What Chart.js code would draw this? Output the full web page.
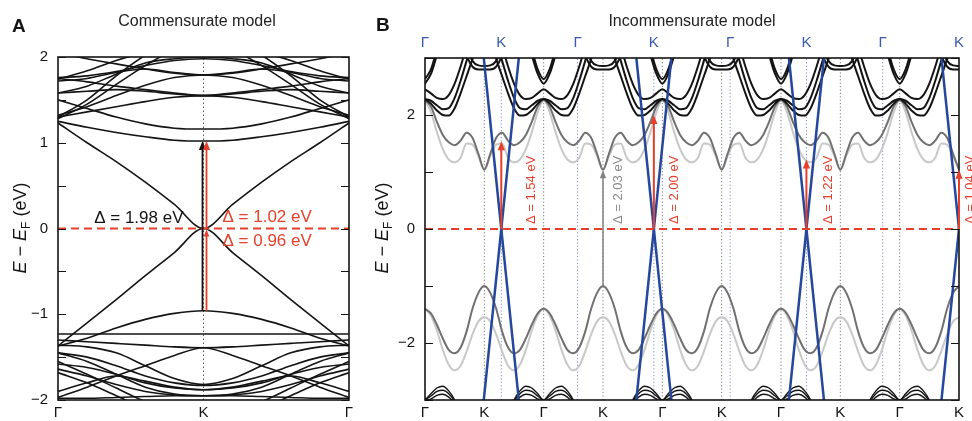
<!DOCTYPE html>
<html lang="en">
<head>
<meta charset="UTF-8">
<title>Commensurate vs incommensurate band structure</title>
<script src="https://cdn.jsdelivr.net/npm/chart.js"></script>
<style>
  html, body { margin: 0; padding: 0; background: #fff; }
  body { width: 972px; height: 421px; position: relative; overflow: hidden; font-family: 'Liberation Sans', Arial, sans-serif; color: #141414; }
  canvas { position: absolute; top: 0; }
  #chartA { left: 0; }
  #chartB { left: 370px; }
  .panel { position: absolute; font-weight: bold; font-size: 19px; line-height: 22px; }
  .title { position: absolute; font-size: 16px; line-height: 18px; transform: translateX(-50%); white-space: nowrap; color: #222; }
</style>
</head>
<body>
<canvas id="chartA" width="370" height="421"></canvas>
<canvas id="chartB" width="602" height="421"></canvas>
<div class="panel" style="left:12px;top:15px">A</div>
<div class="panel" style="left:376px;top:14px">B</div>
<div class="title" style="left:197px;top:12px">Commensurate model</div>
<div class="title" style="left:692px;top:12px">Incommensurate model</div>
<script>
// ---------- panel A: commensurate model (Γ-K-Γ), half path Γ→K, mirrored for K→Γ ----------
const pathA = ['Γ', 'K', 'Γ'];
const kHalfA = [0, 0.2, 0.4, 0.6, 0.8, 1.0];
const diracA = [
  [1.23, 1.00, 0.78, 0.54, 0.28, 0],
  [-1.37, -1.10, -0.83, -0.55, -0.28, 0]
];
const conductionA = [
  [1.25, 1.18, 1.12, 1.07, 1.03, 1.02],
  [1.50, 1.40, 1.30, 1.22, 1.17, 1.16],
  [1.30, 1.36, 1.42, 1.48, 1.53, 1.55],
  [1.75, 1.71, 1.66, 1.62, 1.58, 1.55],
  [1.32, 1.42, 1.55, 1.67, 1.76, 1.79],
  [1.58, 1.60, 1.62, 1.60, 1.57, 1.55],
  [1.28, 1.45, 1.68, 1.90, 2.08, 2.15],
  [1.76, 1.78, 1.83, 1.90, 1.96, 1.98],
  [1.72, 1.75, 1.82, 1.86, 1.82, 1.79],
  [2.05, 1.98, 1.92, 1.86, 1.81, 1.79],
  [1.30, 1.50, 1.78, 2.02, 2.20, 2.25],
  [1.58, 1.66, 1.80, 1.93, 1.98, 2.00],
  [1.74, 1.84, 1.96, 2.05, 2.10, 2.10]
];
const valenceA = [
  [-1.37, -1.28, -1.16, -1.06, -0.99, -0.96],
  [-1.23, -1.23, -1.23, -1.23, -1.23, -1.23],
  [-1.30, -1.32, -1.34, -1.36, -1.38, -1.39],
  [-1.97, -1.85, -1.72, -1.60, -1.48, -1.39],
  [-1.45, -1.50, -1.60, -1.72, -1.80, -1.83],
  [-1.58, -1.62, -1.70, -1.80, -1.86, -1.88],
  [-1.64, -1.72, -1.82, -1.90, -1.94, -1.95],
  [-1.98, -1.98, -1.97, -1.96, -1.95, -1.95],
  [-1.55, -1.70, -1.86, -2.02, -2.15, -2.20],
  [-1.68, -1.80, -1.95, -2.10, -2.20, -2.25],
  [-1.45, -1.55, -1.70, -1.85, -1.93, -1.95],
  [-1.90, -1.80, -1.72, -1.78, -1.85, -1.88],
  [-1.36, -1.38, -1.45, -1.60, -1.75, -1.82]
];
const gapA = [-0.96, 0, 1.02];   // valence top, E_F, conduction bottom at K

// ---------- panel B: incommensurate model ----------
const pathB = ['Γ', 'K', 'Γ', 'K', 'Γ', 'K', 'Γ', 'K', 'Γ', 'K'];   // bottom axis
const pathTopB = ['Γ', 'K', 'Γ', 'K', 'Γ', 'K', 'Γ', 'K'];          // top axis (graphene)
const kHalfB = [0, 0.1, 0.2, 0.3, 0.4, 0.5, 0.6, 0.7, 0.8, 0.9, 1.0];
const upperDarkB = [2.26, 2.15, 1.88, 1.65, 1.52, 1.47, 1.55, 1.69, 1.60, 1.32, 1.04];
const upperLightB = [2.26, 2.05, 1.70, 1.40, 1.22, 1.17, 1.25, 1.50, 1.48, 1.28, 1.04];
const lowerDarkB = [-1.40, -1.48, -1.68, -1.92, -2.12, -2.18, -2.08, -1.80, -1.40, -1.12, -1.00];
const lowerLightB = [-1.40, -1.52, -1.78, -2.12, -2.38, -2.48, -2.40, -2.15, -1.85, -1.62, -1.55];
const blackTopB = [
  [2.28, 2.20, 2.08, 2.00, 1.99, 2.12, 2.38, 2.68, 2.98, 3.30, 3.50],
  [2.28, 2.25, 2.17, 2.10, 2.12, 2.30, 2.60, 2.95, 3.30, 3.50, 3.60],
  [2.45, 2.38, 2.30, 2.28, 2.35, 2.55, 2.85, 3.20, 3.50, 3.60, 3.60],
  [2.63, 2.80, 3.15, 3.50, 3.70, 3.70, 3.70, 3.70, 3.70, 3.70, 3.70],
  [2.55, 2.72, 3.05, 3.40, 3.70, 3.70, 3.70, 3.70, 3.70, 3.70, 3.70],
  [3.70, 3.70, 3.70, 3.70, 3.70, 3.60, 3.45, 3.05, 2.85, 2.80, 2.80],
  [3.70, 3.70, 3.70, 3.70, 3.70, 3.65, 3.55, 3.20, 2.95, 2.87, 2.86]
];
const blackBottomB = [
  [-3.00, -2.89, -2.79, -2.76, -2.84, -3.00, -3.25, -3.50, -3.60, -3.60, -3.60],
  [-3.00, -2.93, -2.85, -2.83, -2.89, -3.03, -3.28, -3.50, -3.60, -3.60, -3.60],
  [-3.02, -2.98, -2.92, -2.90, -2.95, -3.07, -3.30, -3.50, -3.60, -3.60, -3.60]
];
const coneE = [3.0, 0, -3.0];        // graphene Dirac cone energies
const coneDk = [0.295, 0, -0.295];   // k offset from K at those energies
const gapsB = [1.54, 2.00, 1.22, 1.04];   // at the four graphene K points
const grayGapB = [-1.00, 1.03];           // at substrate K (bottom index 3)
const grayGapIdxB = 3;

const RED = '#e6402c', BLUE = '#25479d', BLUE_TXT = '#3a5ab0', INK = '#141414';
const DARK = '#707070', LIGHT = '#c8c8c8';
const FONT = "'Liberation Sans', Arial, sans-serif";

// walk Γ→K→Γ→K..., reversing the half path on each K→Γ leg
function tile(half, e, legs) {
  const n = half.length, pts = [];
  for (let leg = 0; leg < legs; leg++) {
    for (let i = leg ? 1 : 0; i < n; i++) {
      const j = leg % 2 ? n - 1 - i : i;
      pts.push({ x: leg + (leg % 2 ? 1 - half[j] : half[j]), y: e[j] });
    }
  }
  return pts;
}
const band = (data, color, width, order) => ({
  data, borderColor: color, borderWidth: width, pointRadius: 0,
  cubicInterpolationMode: 'monotone', order
});
const guide = (x, y0, y1, color, dash) => ({
  data: [{ x, y: y0 }, { x, y: y1 }], borderColor: color, borderWidth: 1,
  borderDash: dash, pointRadius: 0, tension: 0, order: 20
});
const zeroLine = (xmax) => ({
  data: [{ x: 0, y: 0 }, { x: xmax, y: 0 }], borderColor: RED, borderWidth: 2,
  borderDash: [8, 5], pointRadius: 0, tension: 0, order: 1
});
const fmtTick = v => v < 0 ? '\u2212' + Math.abs(v) : String(v);

function arrow(ctx, x, y0, y1, color, w, head) {
  const dir = y1 < y0 ? -1 : 1;
  ctx.save();
  ctx.strokeStyle = color; ctx.fillStyle = color; ctx.lineWidth = w;
  ctx.beginPath(); ctx.moveTo(x, y0); ctx.lineTo(x, y1 - dir * head * 0.8); ctx.stroke();
  ctx.beginPath();
  ctx.moveTo(x, y1);
  ctx.lineTo(x - head * 0.4, y1 - dir * head);
  ctx.lineTo(x + head * 0.4, y1 - dir * head);
  ctx.closePath(); ctx.fill();
  ctx.restore();
}
function vText(ctx, text, x, y, color) {
  ctx.save();
  ctx.translate(x, y); ctx.rotate(-Math.PI / 2);
  ctx.font = '13px ' + FONT; ctx.fillStyle = color;
  ctx.textAlign = 'left'; ctx.textBaseline = 'middle';
  ctx.fillText(text, 0, 0);
  ctx.restore();
}
function axisTitle(ctx, cx, cy) {
  const parts = [
    { t: 'E', f: 'italic 18px ' + FONT, dy: 0 },
    { t: ' \u2212 ', f: '18px ' + FONT, dy: 0 },
    { t: 'E', f: 'italic 18px ' + FONT, dy: 0 },
    { t: 'F', f: '12px ' + FONT, dy: 4 },
    { t: ' (eV)', f: '18px ' + FONT, dy: 0 }
  ];
  ctx.save();
  ctx.translate(cx, cy); ctx.rotate(-Math.PI / 2);
  ctx.fillStyle = INK; ctx.textBaseline = 'alphabetic';
  let w = 0;
  parts.forEach(p => { ctx.font = p.f; p.w = ctx.measureText(p.t).width; w += p.w; });
  let x = -w / 2;
  parts.forEach(p => { ctx.font = p.f; ctx.fillText(p.t, x, 6 + p.dy); x += p.w; });
  ctx.restore();
}
function frameAndTicks(chart, len) {
  const { ctx, chartArea: a, scales: { y } } = chart;
  ctx.save();
  ctx.strokeStyle = INK; ctx.lineWidth = 1.2;
  y.ticks.forEach(t => {
    const py = Math.round(y.getPixelForValue(t.value)) + 0.5;
    ctx.beginPath();
    ctx.moveTo(a.left, py); ctx.lineTo(a.left + len, py);
    ctx.moveTo(a.right, py); ctx.lineTo(a.right - len, py);
    ctx.stroke();
  });
  ctx.lineWidth = 1.6;
  ctx.strokeRect(a.left, a.top, a.right - a.left, a.bottom - a.top);
  ctx.restore();
}
const tickFont = { family: FONT, size: 15 };
const baseOptions = {
  responsive: false, animation: false, devicePixelRatio: 1, events: [],
  plugins: { legend: { display: false }, tooltip: { enabled: false } }
};

// ---------- chart A ----------
const dsA = [guide(1, -2, 2, '#555', [1.5, 2.5])];
conductionA.concat(valenceA).forEach(e => dsA.push(band(tile(kHalfA, e, 2), INK, 1.6, 8)));
diracA.forEach(e => dsA.push(band(tile(kHalfA, e, 2), INK, 1.6, 8)));
dsA.push(zeroLine(2));

const decorA = {
  id: 'decorA',
  afterDatasetsDraw(chart) {
    const { ctx, scales: { x, y } } = chart;
    frameAndTicks(chart, 8);
    const xk = x.getPixelForValue(1);
    const yv = y.getPixelForValue(gapA[0]), y0 = y.getPixelForValue(gapA[1]), yc = y.getPixelForValue(gapA[2]);
    arrow(ctx, xk - 1, yv, yc, INK, 1.8, 9);
    arrow(ctx, xk + 3, yv, y0 + 1, RED, 1.8, 7);
    arrow(ctx, xk + 3, y0, yc, RED, 1.8, 9);
    ctx.save();
    ctx.font = '17px ' + FONT; ctx.textBaseline = 'middle';
    ctx.fillStyle = INK; ctx.textAlign = 'right';
    ctx.fillText('\u0394 = ' + (gapA[2] - gapA[0]).toFixed(2) + ' eV', xk - 20, y0 - 10);
    ctx.fillStyle = RED; ctx.textAlign = 'left';
    ctx.fillText('\u0394 = ' + (gapA[2] - gapA[1]).toFixed(2) + ' eV', xk + 19, y0 - 11);
    ctx.fillText('\u0394 = ' + (gapA[1] - gapA[0]).toFixed(2) + ' eV', xk + 19, y0 + 13);
    ctx.restore();
    axisTitle(ctx, 20, 228);
  }
};

new Chart(document.getElementById('chartA'), {
  type: 'line',
  data: { datasets: dsA },
  options: Object.assign({}, baseOptions, {
    layout: { padding: { top: 57, right: 21, left: 0, bottom: 0 } },
    scales: {
      x: {
        type: 'linear', min: 0, max: 2,
        grid: { display: false, drawTicks: false }, border: { display: false },
        afterBuildTicks: s => { s.ticks = pathA.map((_, i) => ({ value: i })); },
        afterFit: s => { s.height = 21; },
        ticks: { autoSkip: false, maxRotation: 0, padding: 4, color: INK, font: tickFont, callback: (v, i) => pathA[i] }
      },
      y: {
        min: -2, max: 2,
        grid: { display: false, drawTicks: false }, border: { display: false },
        afterFit: s => { s.width = 58; },
        ticks: { stepSize: 0.5, autoSkip: false, padding: 10, color: INK, font: tickFont,
          callback: v => Number.isInteger(v) ? fmtTick(v) : '' }
      }
    }
  }),
  plugins: [decorA]
});

// ---------- chart B ----------
const kMaxB = pathB.length - 1;
const kTopB = pathTopB.map((_, i) => i * kMaxB / (pathTopB.length - 1));
const diracKB = kTopB.filter((_, i) => pathTopB[i] === 'K');

const dsB = [];
for (let k = 1; k < kMaxB; k++) dsB.push(guide(k, -3, 3, '#7a7a7a', [1.2, 2.2]));
kTopB.slice(1, -1).forEach(k => dsB.push(guide(k, -3, 3, '#7f8fc8', [1.2, 2.2])));
dsB.push(band(tile(kHalfB, upperLightB, kMaxB), LIGHT, 2, 12));
dsB.push(band(tile(kHalfB, lowerLightB, kMaxB), LIGHT, 2, 12));
dsB.push(band(tile(kHalfB, upperDarkB, kMaxB), DARK, 2, 11));
dsB.push(band(tile(kHalfB, lowerDarkB, kMaxB), DARK, 2, 11));
blackTopB.forEach(e => dsB.push(band(tile(kHalfB, e, kMaxB), INK, 2, 8)));
blackBottomB.forEach(e => dsB.push(band(tile(kHalfB, e, kMaxB), INK, 1.4, 8)));
diracKB.forEach(k => {
  dsB.push(band(coneE.map((e, i) => ({ x: k - coneDk[i], y: e })), BLUE, 2.5, 4));
  dsB.push(band(coneE.map((e, i) => ({ x: k + coneDk[i], y: e })), BLUE, 2.5, 4));
});
dsB.push(zeroLine(kMaxB));

const labelDxB = [30, 21, 22, 11];
const decorB = {
  id: 'decorB',
  afterDatasetsDraw(chart) {
    const { ctx, scales: { x, y } } = chart;
    frameAndTicks(chart, 8);
    const y0 = y.getPixelForValue(0);
    // gray gap at the substrate K point
    const xg = x.getPixelForValue(grayGapIdxB);
    arrow(ctx, xg, y.getPixelForValue(grayGapB[0]), y.getPixelForValue(grayGapB[1]), '#828282', 1.5, 8);
    vText(ctx, '\u0394 = ' + (grayGapB[1] - grayGapB[0]).toFixed(2) + ' eV', xg + 15, y0 - 5, '#8a8a8a');
    // red gaps at the graphene K points
    diracKB.forEach((k, i) => {
      const px = x.getPixelForValue(k);
      arrow(ctx, px, y0, y.getPixelForValue(gapsB[i]), RED, 2, 9);
      vText(ctx, '\u0394 = ' + gapsB[i].toFixed(2) + ' eV', px + labelDxB[i], y0 - 5, RED);
    });
    axisTitle(ctx, 12, 228);
  }
};

new Chart(document.getElementById('chartB'), {
  type: 'line',
  data: { datasets: dsB },
  options: Object.assign({}, baseOptions, {
    layout: { padding: { top: 0, right: 13, left: 0, bottom: 0 } },
    scales: {
      x: {
        type: 'linear', min: 0, max: kMaxB,
        grid: { display: false, drawTicks: false }, border: { display: false },
        afterBuildTicks: s => { s.ticks = pathB.map((_, i) => ({ value: i })); },
        afterFit: s => { s.height = 21; },
        ticks: { autoSkip: false, maxRotation: 0, padding: 4, color: INK, font: tickFont, callback: (v, i) => pathB[i] }
      },
      xTop: {
        type: 'linear', position: 'top', min: 0, max: kMaxB,
        grid: { display: false, drawTicks: false }, border: { display: false },
        afterBuildTicks: s => { s.ticks = kTopB.map(v => ({ value: v })); },
        afterFit: s => { s.height = 58; },
        ticks: { autoSkip: false, maxRotation: 0, padding: 6, color: BLUE_TXT, font: tickFont, callback: (v, i) => pathTopB[i] }
      },
      y: {
        min: -3, max: 3,
        grid: { display: false, drawTicks: false }, border: { display: false },
        afterFit: s => { s.width = 55; },
        ticks: { stepSize: 1, autoSkip: false, padding: 10, color: INK, font: tickFont,
          callback: v => v % 2 === 0 ? fmtTick(v) : '' }
      }
    }
  }),
  plugins: [decorB]
});
</script>
</body>
</html>
